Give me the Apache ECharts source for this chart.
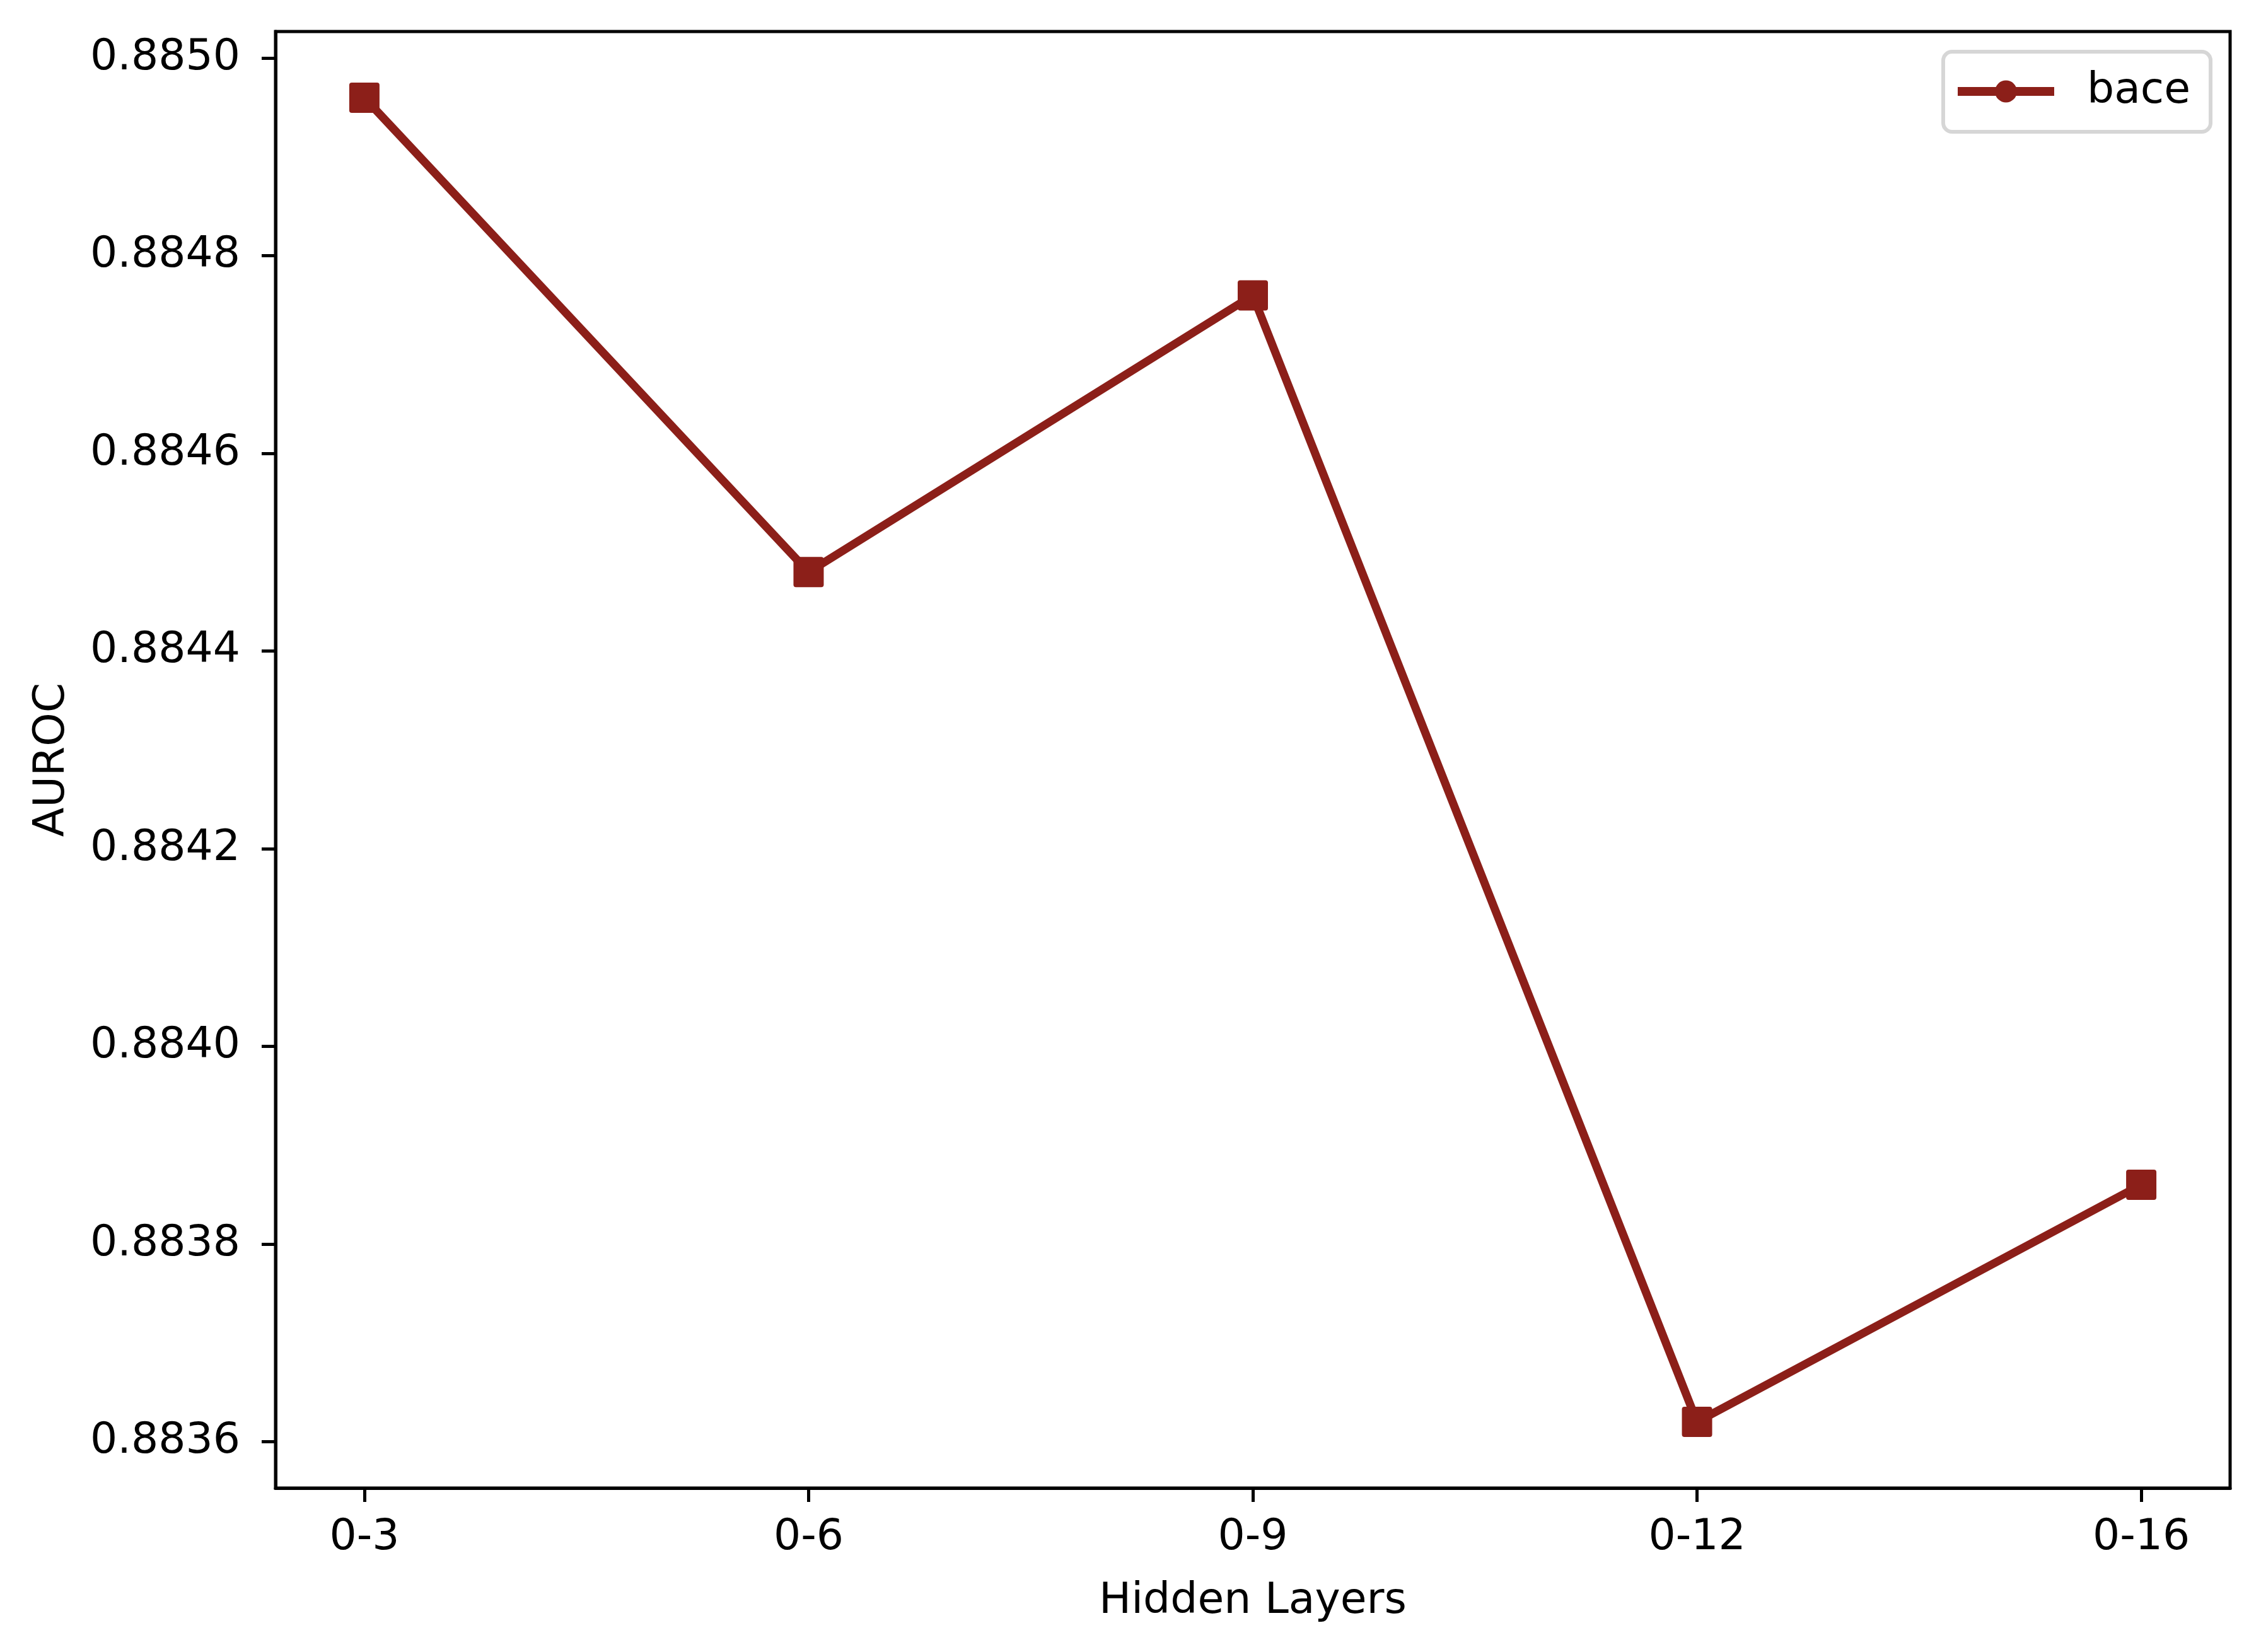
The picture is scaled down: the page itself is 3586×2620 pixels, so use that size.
<!DOCTYPE html>
<html>
<head>
<meta charset="utf-8">
<script src="https://cdn.jsdelivr.net/npm/echarts@6/dist/echarts.min.js"></script>
<style>html,body{margin:0;padding:0;background:#fff;}#c{width:3586px;height:2620px;}</style>
</head>
<body>
<div id="c"></div>
<script>
const categories = ['0-3', '0-6', '0-9', '0-12', '0-16'];
const baceValues = [0.88496, 0.88448, 0.88476, 0.88362, 0.88386];
const yTicks = [0.8836, 0.8838, 0.8840, 0.8842, 0.8844, 0.8846, 0.8848, 0.8850];
const seriesName = 'bace';

const FONT = 'DejaVu Sans';
const FS = 68;
const COLOR = '#8c1f19';
const xIdx = categories.map((c, i) => i);

const chart = echarts.init(document.getElementById('c'), null, {renderer: 'canvas'});
chart.setOption({
  animation: false,
  backgroundColor: '#ffffff',
  grid: {left: 437, right: 49, top: 50, bottom: 260, show: true, borderColor: '#000', borderWidth: 5, backgroundColor: 'transparent'},
  xAxis: {
    type: 'value', min: -0.2, max: 4.2,
    name: 'Hidden Layers', nameLocation: 'middle', nameGap: 146,
    nameTextStyle: {fontFamily: FONT, fontSize: FS, color: '#000'},
    axisLine: {show: true, onZero: false, lineStyle: {color: '#000', width: 5}},
    axisTick: {show: true, customValues: xIdx, length: 22, lineStyle: {color: '#000', width: 5}},
    axisLabel: {customValues: xIdx, margin: 45, fontFamily: FONT, fontSize: FS, color: '#000',
      formatter: v => categories[Math.round(v)]},
    splitLine: {show: false}
  },
  yAxis: {
    type: 'value', min: 0.883553, max: 0.885027,
    name: 'AUROC', nameLocation: 'middle', nameGap: 320, nameRotate: 90,
    nameTextStyle: {fontFamily: FONT, fontSize: FS, color: '#000'},
    axisLine: {show: true, onZero: false, lineStyle: {color: '#000', width: 5}},
    axisTick: {show: true, customValues: yTicks, length: 22, lineStyle: {color: '#000', width: 5}},
    axisLabel: {customValues: yTicks, margin: 56, fontFamily: FONT, fontSize: FS, color: '#000',
      formatter: v => v.toFixed(4)},
    splitLine: {show: false}
  },
  legend: {
    left: 3082, top: 82,
    data: [{name: seriesName, icon: 'path://M0 10.5L153 10.5L153 24.5L0 24.5Z M59 17.5A17.5 17.5 0 1 1 94 17.5A17.5 17.5 0 1 1 59 17.5Z'}],
    itemWidth: 153, itemHeight: 35,
    padding: [29, 32, 30, 23],
    backgroundColor: '#fff',
    borderColor: '#d6d6d6', borderWidth: 6, borderRadius: 14,
    itemStyle: {color: COLOR, borderWidth: 0},
    lineStyle: {width: 0},
    textStyle: {fontFamily: FONT, fontSize: FS, color: '#000', lineHeight: 68, padding: [0, 0, 0, 47]}
  },
  series: [{
    name: seriesName,
    type: 'line',
    data: baceValues.map((v, i) => [xIdx[i], v]),
    symbol: 'path://M4 0H44A4 4 0 0 1 48 4V44A4 4 0 0 1 44 48H4A4 4 0 0 1 0 44V4A4 4 0 0 1 4 0Z',
    symbolSize: 48,
    lineStyle: {color: COLOR, width: 13},
    itemStyle: {color: COLOR, borderWidth: 0},
    emphasis: {disabled: true},
    z: 3
  }]
});
</script>
</body>
</html>
